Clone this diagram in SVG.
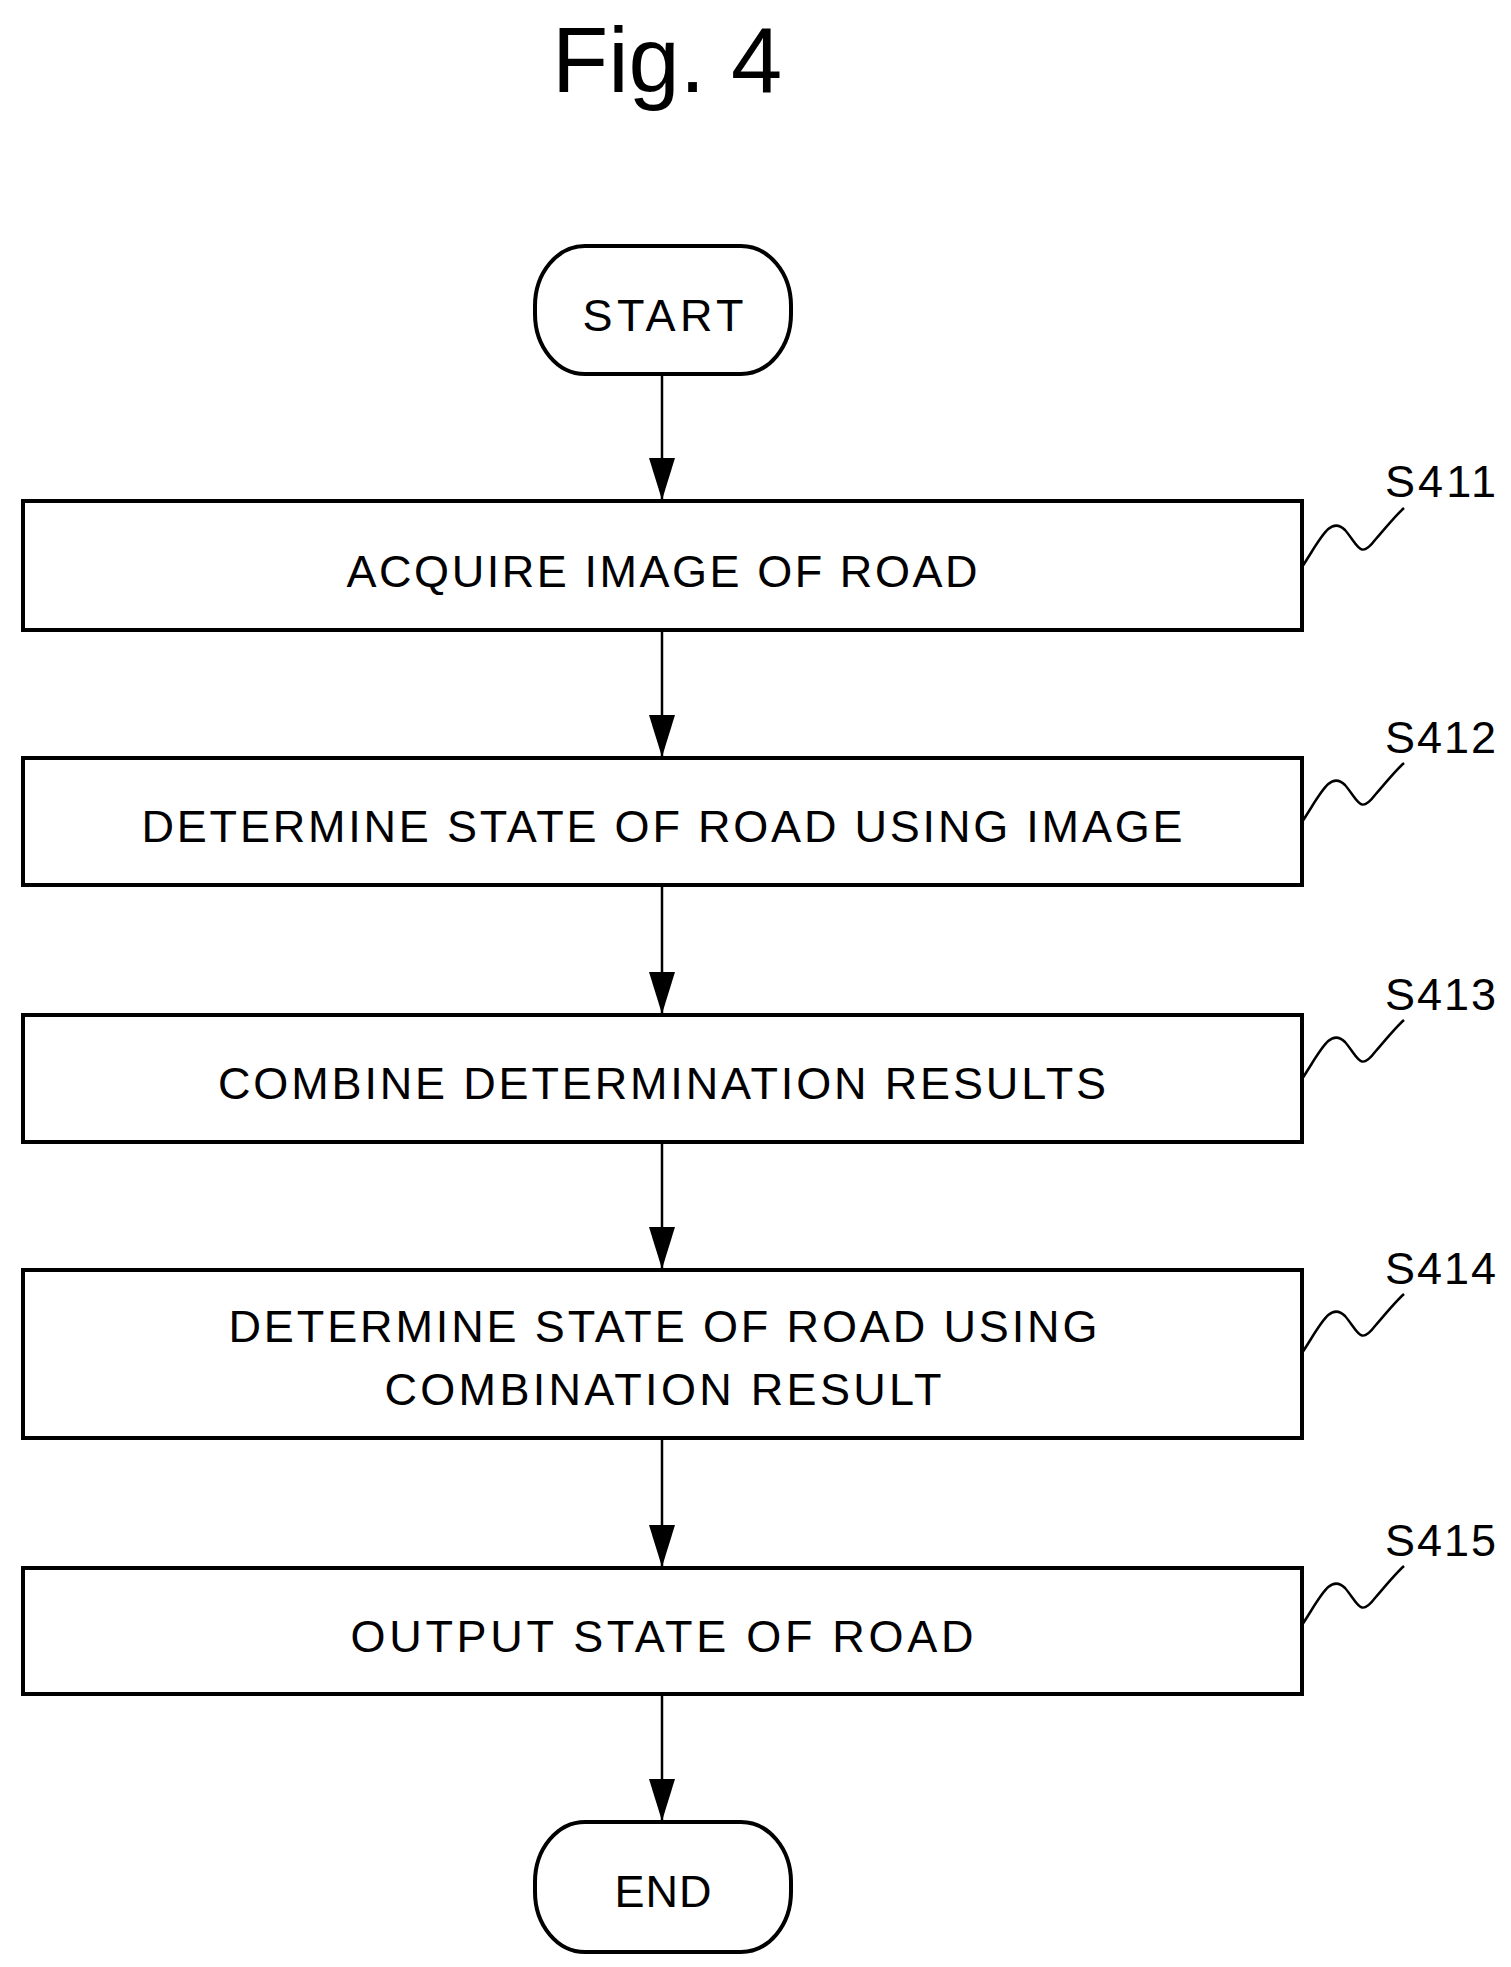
<svg xmlns="http://www.w3.org/2000/svg" width="1511" height="1967" viewBox="0 0 1511 1967">
<style>
.b{fill:#fff;stroke:#000;stroke-width:4}
.t{font-family:"Liberation Sans",Arial,sans-serif;font-size:45px;fill:#000;text-anchor:middle}
.l{font-family:"Liberation Sans",Arial,sans-serif;font-size:45px;fill:#000}
.c{stroke:#000;stroke-width:2.5;fill:none}
.s{stroke:#000;stroke-width:2.5;fill:none}
</style>
<defs><marker id="a" markerWidth="42" markerHeight="26" refX="42" refY="13" orient="auto" markerUnits="userSpaceOnUse" viewBox="0 0 42 26"><path d="M0,0 L42,13 L0,26 Z" fill="#000"/></marker></defs>
<rect width="1511" height="1967" fill="#fff"/>
<text x="667" y="92" class="t" style="font-size:92px">Fig. 4</text>
<g id="connectors">
<line class="c" x1="662" y1="374" x2="662" y2="500" marker-end="url(#a)"/>
<line class="c" x1="662" y1="630" x2="662" y2="757" marker-end="url(#a)"/>
<line class="c" x1="662" y1="885" x2="662" y2="1014" marker-end="url(#a)"/>
<line class="c" x1="662" y1="1142" x2="662" y2="1269" marker-end="url(#a)"/>
<line class="c" x1="662" y1="1438" x2="662" y2="1567" marker-end="url(#a)"/>
<line class="c" x1="662" y1="1694" x2="662" y2="1821" marker-end="url(#a)"/>
</g>
<g id="start"><rect class="b" x="535" y="246" width="256" height="128" rx="50" ry="60"/><text class="t" x="663" y="331" textLength="161" lengthAdjust="spacing">START</text></g>
<g id="s411"><rect class="b" x="23" y="501" width="1279" height="129"/><text class="t" x="662" y="587" textLength="631" lengthAdjust="spacing">ACQUIRE IMAGE OF ROAD</text>
<path class="s" d="M1302,567 C1320,540 1330,515 1345,530 C1358,545 1360,560 1375,540 C1388,525 1396,515 1404,508"/><text class="l" x="1385" y="497" textLength="111" lengthAdjust="spacing">S411</text></g>
<g id="s412"><rect class="b" x="23" y="758" width="1279" height="127"/><text class="t" x="662" y="842" textLength="1041" lengthAdjust="spacing">DETERMINE STATE OF ROAD USING IMAGE</text>
<path class="s" d="M1302,822 C1320,795 1330,770 1345,785 C1358,800 1360,815 1375,795 C1388,780 1396,770 1404,763"/><text class="l" x="1385" y="753" textLength="111" lengthAdjust="spacing">S412</text></g>
<g id="s413"><rect class="b" x="23" y="1015" width="1279" height="127"/><text class="t" x="662" y="1099" textLength="888" lengthAdjust="spacing">COMBINE DETERMINATION RESULTS</text>
<path class="s" d="M1302,1079 C1320,1052 1330,1027 1345,1042 C1358,1057 1360,1072 1375,1052 C1388,1037 1396,1027 1404,1020"/><text class="l" x="1385" y="1010" textLength="111" lengthAdjust="spacing">S413</text></g>
<g id="s414"><rect class="b" x="23" y="1270" width="1279" height="168"/><text class="t" x="663" y="1342" textLength="869" lengthAdjust="spacing">DETERMINE STATE OF ROAD USING</text><text class="t" x="663" y="1405" textLength="557" lengthAdjust="spacing">COMBINATION RESULT</text>
<path class="s" d="M1302,1353 C1320,1326 1330,1301 1345,1316 C1358,1331 1360,1346 1375,1326 C1388,1311 1396,1301 1404,1294"/><text class="l" x="1385" y="1284" textLength="111" lengthAdjust="spacing">S414</text></g>
<g id="s415"><rect class="b" x="23" y="1568" width="1279" height="126"/><text class="t" x="662" y="1652" textLength="623" lengthAdjust="spacing">OUTPUT STATE OF ROAD</text>
<path class="s" d="M1302,1625 C1320,1598 1330,1573 1345,1588 C1358,1603 1360,1618 1375,1598 C1388,1583 1396,1573 1404,1566"/><text class="l" x="1385" y="1556" textLength="111" lengthAdjust="spacing">S415</text></g>
<g id="end"><rect class="b" x="535" y="1822" width="256" height="130" rx="50" ry="60"/><text class="t" x="663" y="1907" textLength="97" lengthAdjust="spacing">END</text></g>
</svg>
